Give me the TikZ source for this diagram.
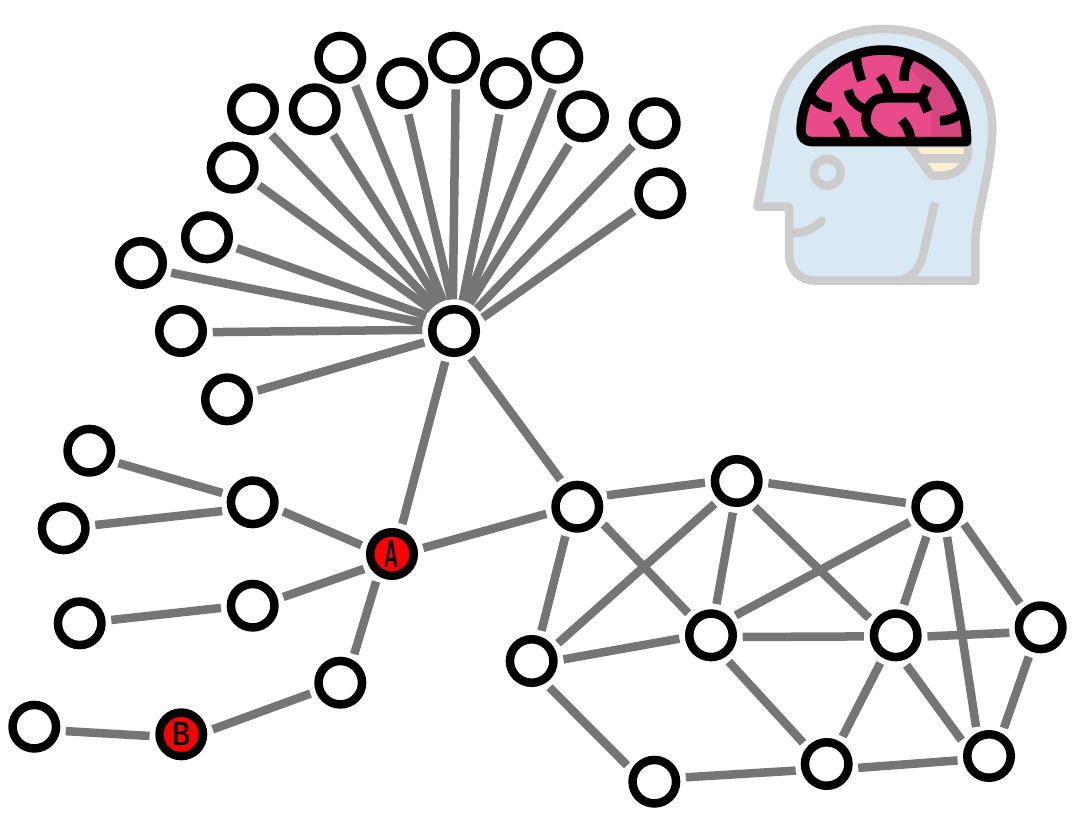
\documentclass[tikz,border=0pt]{standalone}
\usepackage{tikz}
\definecolor{edgeGray}{RGB}{117,117,117}
\definecolor{headGray}{RGB}{204,204,204}
\definecolor{headBlue}{RGB}{217,233,244}
\definecolor{brainPink}{RGB}{232,74,138}
\definecolor{brainDark}{RGB}{214,69,127}
\definecolor{brainCream}{RGB}{253,240,208}
\definecolor{markRed}{RGB}{255,0,0}
\tikzset{
  vertex/.style={circle,draw=black,fill=white,line width=0.085cm,minimum size=0.435cm,inner sep=0pt,outer sep=0.1cm},
  marked/.style={vertex,fill=markRed,font=\sffamily\bfseries},
  link/.style={edgeGray,line width=0.085cm},
  headline/.style={headGray,line width=0.085cm,line cap=round,line join=round},
  brainline/.style={black,line width=0.095cm,line join=round}
}
\begin{document}
\begin{tikzpicture}[x=0.01cm,y=-0.01cm]
    \useasboundingbox (0,0) rectangle (1079,818);
    % hub and its fan
    \node[vertex] (hub) at (454,331) {};
    \node[vertex] (fanA) at (340.3,57.7) {};
    \node[vertex] (fanB) at (402.3,83.3) {};
    \node[vertex] (fanC) at (454,57.7) {};
    \node[vertex] (fanD) at (506,83.3) {};
    \node[vertex] (fanE) at (557.3,57.7) {};
    \node[vertex] (fanF) at (583,116.3) {};
    \node[vertex] (fanG) at (654.7,123.3) {};
    \node[vertex] (fanH) at (660.3,193.3) {};
    \node[vertex] (fanI) at (314.7,109.3) {};
    \node[vertex] (fanJ) at (253,109.3) {};
    \node[vertex] (fanK) at (232.7,167.7) {};
    \node[vertex] (fanL) at (207,237.3) {};
    \node[vertex] (fanM) at (141,263) {};
    \node[vertex] (fanN) at (181,331) {};
    \node[vertex] (fanO) at (227,399.3) {};
    \draw[link] (hub.110) -- (fanA.-62);
    \draw[link] (hub.95) -- (fanB.-79);
    \draw[link] (hub.92) -- (fanC.-87);
    \draw[link] (hub.74) -- (fanD.-102);
    \draw[link] (hub.67) -- (fanE.-98);
    \draw[link] (hub.60) -- (fanF.-116);
    \draw[link] (hub.44) -- (fanG.-134);
    \draw[link] (hub.25) -- (fanH.-146);
    \draw[link] (hub.118) -- (fanI.-54);
    \draw[link] (hub.128) -- (fanJ.-54);
    \draw[link] (hub.137) -- (fanK.-34);
    \draw[link] (hub.151) -- (fanL.-20);
    \draw[link] (hub.165) -- (fanM.-18);
    \draw[link] (hub.178) -- (fanN.-2);
    \draw[link] (hub.201) -- (fanO.16);

    % left tree
    \node[marked] (nodeA) at (392,554) {\scalebox{0.55}[1.1]{A}};
    \node[marked] (nodeB) at (181.3,734.3) {\scalebox{0.75}[0.95]{B}};
    \node[vertex] (midA) at (252.7,502.3) {};
    \node[vertex] (midB) at (252.7,605.7) {};
    \node[vertex] (midC) at (340.3,682.7) {};
    \node[vertex] (leafA) at (89.3,450.7) {};
    \node[vertex] (leafB) at (63.7,528.3) {};
    \node[vertex] (leafC) at (79.7,623.3) {};
    \node[vertex] (leafD) at (34.3,726.7) {};
    \draw[link] (hub.254) -- (nodeA.71);
    \draw[link] (nodeA.164) -- (midA.-17);
    \draw[link] (nodeA.208) -- (midB.16);
    \draw[link] (nodeA.240) -- (midC.64);
    \draw[link] (midA.163) -- (leafA.-23);
    \draw[link] (midA.196) -- (leafB.6);
    \draw[link] (midB.184) -- (leafC.6);
    \draw[link] (midC.200) -- (nodeB.9);
    \draw[link] (nodeB.183) -- (leafD.-8);

    % right cluster
    \node[vertex] (netA) at (577.3,506.7) {};
    \node[vertex] (netB) at (736.7,481) {};
    \node[vertex] (netC) at (937.3,506.7) {};
    \node[vertex] (netD) at (531.7,661) {};
    \node[vertex] (netE) at (711,635.3) {};
    \node[vertex] (netF) at (895.7,635.3) {};
    \node[vertex] (netG) at (1040.7,627.3) {};
    \node[vertex] (netH) at (654.3,781.7) {};
    \node[vertex] (netI) at (826.7,764) {};
    \node[vertex] (netJ) at (989,756) {};
    \draw[link] (hub.-58) -- (netA.122);
    \draw[link] (nodeA.11) -- (netA.193);
    \draw[link] (netA.21) -- (netB.183);
    \draw[link] (netB.-4) -- (netC.173);
    \draw[link] (netA.248) -- (netD.72);
    \draw[link] (netA.-34) -- (netE.136);
    \draw[link] (netB.226) -- (netD.34);
    \draw[link] (netB.263) -- (netE.80);
    \draw[link] (netB.-55) -- (netF.147);
    \draw[link] (netC.209) -- (netE.39);
    \draw[link] (netC.250) -- (netF.75);
    \draw[link] (netC.-33) -- (netG.131);
    \draw[link] (netC.-72) -- (netJ.114);
    \draw[link] (netD.3) -- (netE.186);
    \draw[link] (netD.-56) -- (netH.149);
    \draw[link] (netE.-3) -- (netF.182);
    \draw[link] (netE.-56) -- (netI.138);
    \draw[link] (netF.-2) -- (netG.190);
    \draw[link] (netF.241) -- (netI.60);
    \draw[link] (netF.-70) -- (netJ.150);
    \draw[link] (netG.248) -- (netJ.62);
    \draw[link] (netH.8) -- (netI.192);
    \draw[link] (netI.-7) -- (netJ.188);

    % head with brain
    \begin{scope}[shift={(740,10)},scale=0.3333]
        \draw[headline,fill=headBlue] (706,812) -- (706,690) .. controls (712,600) and (757,470) .. (757,350)
            .. controls (752,170) and (610,57) .. (430,57) .. controls (270,57) and (135,160) .. (105,310)
            -- (52,590) -- (147,590) -- (147,730) .. controls (147,780) and (180,812) .. (225,812) -- cycle;
        \draw[headline] (262,487) circle (40);
        \draw[headline] (155,670) .. controls (190,670) and (225,655) .. (245,632);
        \draw[headline,line cap=butt] (585,578) -- (550,730) .. controls (540,780) and (510,810) .. (470,812);
        % cerebellum
        \draw[headline,fill=brainCream] (505,400) -- (575,497) -- (605,497) .. controls (650,497) and (684,465) .. (684,425) -- (684,400) -- cycle;
        \draw[headline,line cap=butt] (535,445) -- (684,445);
        % brain
        \fill[brainPink] (185,395) .. controls (175,230) and (300,120) .. (430,120) .. controls (570,120) and (680,230) .. (680,395) -- cycle;
        \fill[brainDark] (430,125) .. controls (570,120) and (680,230) .. (680,395) -- (575,395) -- (575,300) .. controls (570,220) and (510,160) .. (430,125) -- cycle;
        \draw[brainline] (680,395) -- (215,395) .. controls (195,395) and (183,380) .. (183,365)
            .. controls (183,225) and (295,120) .. (430,120) .. controls (570,120) and (680,230) .. (680,395) -- cycle;
        \draw[brainline] (350,145) .. controls (350,170) and (358,190) .. (365,212);
        \draw[brainline] (510,145) .. controls (495,165) and (492,190) .. (492,212);
        \draw[brainline] (420,198) .. controls (432,215) and (442,232) .. (447,258);
        \draw[brainline] (215,260) .. controls (230,280) and (250,292) .. (275,292);
        \draw[brainline] (325,240) .. controls (330,270) and (350,290) .. (382,300);
        \draw[brainline] (548,264) -- (430,264) .. controls (395,264) and (378,295) .. (378,330) .. controls (378,360) and (410,385) .. (440,395);
        \draw[brainline] (562,228) -- (546,264) -- (564,305);
        \draw[brainline] (600,332) .. controls (625,332) and (645,325) .. (665,308);
        \draw[brainline] (290,328) .. controls (305,345) and (315,365) .. (318,392);
        \draw[brainline] (485,330) .. controls (500,345) and (510,368) .. (514,392);
    \end{scope}
\end{tikzpicture}
\end{document}
